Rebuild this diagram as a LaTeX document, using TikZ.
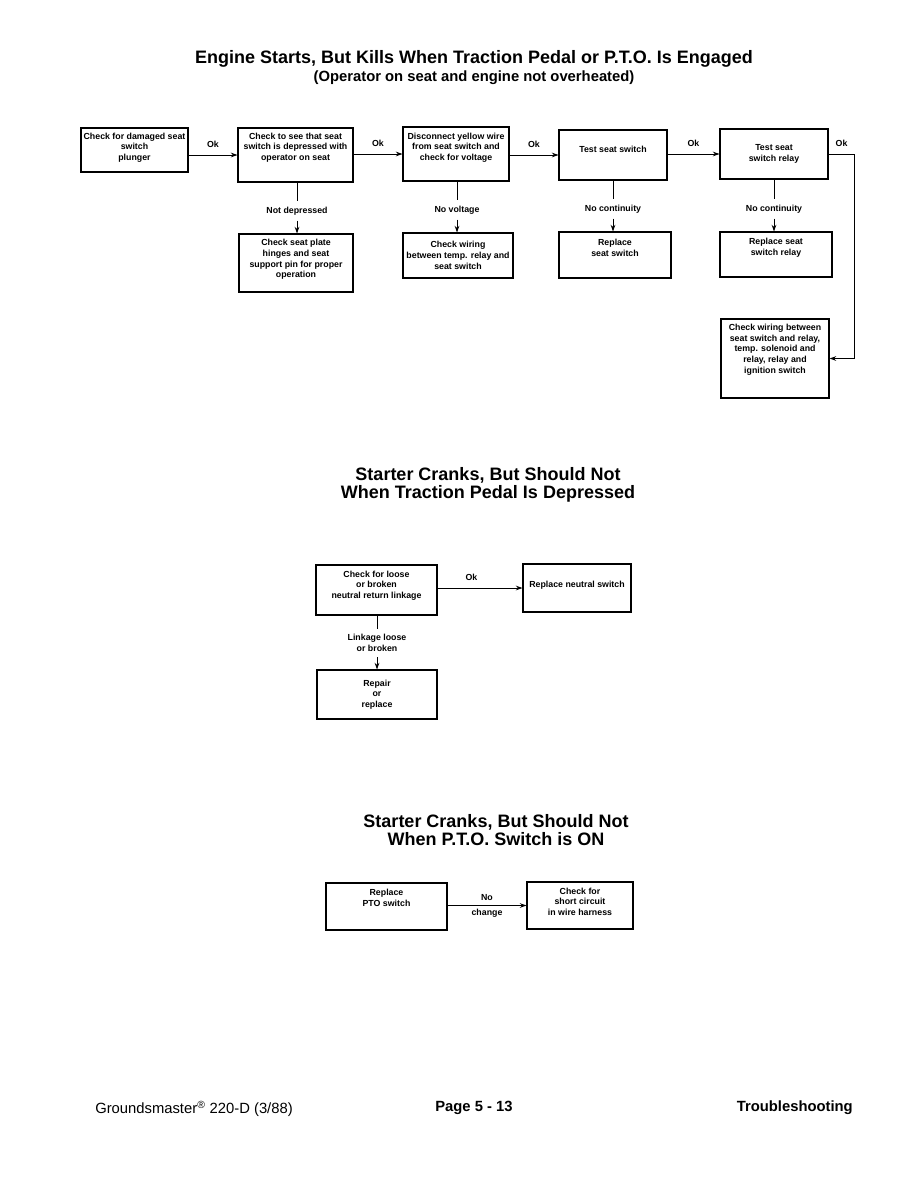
\documentclass[tikz,border=0pt]{standalone}
\usepackage{fontspec}
\setmainfont{Liberation Sans}
\usetikzlibrary{arrows.meta,positioning}

\begin{document}
\begin{tikzpicture}[x=0.75pt,y=-0.75pt,
    every node/.style={font=\fontsize{6.6}{8}\selectfont\bfseries},
    box/.style 2 args={draw,line width=0.8pt,align=center,inner sep=1pt,
        minimum width=#1*0.75pt,minimum height=#2*0.75pt},
    lift/.style={text depth=#1},
    arr/.style={-{Stealth[length=5pt,width=3.5pt]},line width=0.7pt},
    lnk/.style={line width=0.7pt},
    note/.style={align=center,inner xsep=1pt,inner ysep=4pt},
    oklbl/.style={above=5pt,inner sep=0pt},
    title/.style={font=\fontsize{13.5}{13.5}\selectfont\bfseries,align=center},
    subt/.style={font=\fontsize{11.1}{12}\selectfont\bfseries},
    foot/.style={font=\fontsize{11.1}{12}\selectfont,inner sep=0pt}]
  \path[use as bounding box,fill=white] (0,0) rectangle (921,1188);

  %% Engine starts, but kills
  \node[title] (t1) at (474,59)
        {Engine Starts, But Kills When Traction Pedal or P.T.O. Is Engaged};
  \node[subt] (t1s) at (474,78) {(Operator on seat and engine not overheated)};

  %% Top row
  \node[box={107}{44},lift=5pt] (b1) at (134.5,150)
        {Check for damaged seat\\switch\\plunger};
  \node[box={115}{54},lift=12.5pt] (b2) at (295.5,155)
        {Check to see that seat\\switch is depressed with\\operator on seat};
  \node[box={106}{54},lift=11pt] (b3) at (456,154)
        {Disconnect yellow wire\\from seat switch and\\check for voltage};
  \node[box={108}{50},lift=9pt] (b4) at (613,155) {Test seat switch};
  \node[box={108}{50}] (b5) at (774,154) {Test seat\\switch relay};

  %% Second row
  \node[box={114}{58},lift=6.5pt] (b2b) at (296,263)
        {Check seat plate\\hinges and seat\\support pin for proper\\operation};
  \node[box={110}{45}] (b3b) at (458,255.5)
        {Check wiring\\between temp. relay and\\seat switch};
  \node[box={112}{46},lift=10.5pt] (b4b) at (615,255) {Replace\\seat switch};
  \node[box={112}{45},lift=12pt] (b5b) at (776,254.5) {Replace seat\\switch relay};
  \node[box={108}{79},lift=15pt] (b6) at (775,358.5)
        {Check wiring between\\seat switch and relay,\\temp. solenoid and\\relay, relay and\\ignition switch};

  %% Branch labels
  \node[note] (nd) at (297,211) {Not depressed};
  \node[note] (nv) at (457,210) {No voltage};
  \node[note] (nc1) at (613,209) {No continuity};
  \node[note] (nc2) at (774,209) {No continuity};

  \draw[arr] (b1.east |- b2.west) -- (b2.west) node[oklbl,midway]{Ok};
  \draw[arr] (b2.east |- b3.west) -- (b3.west) node[oklbl,midway]{Ok};
  \draw[arr] (b3.east |- b4.west) -- (b4.west) node[oklbl,midway]{Ok};
  \draw[arr] (b4.east |- b5.west) -- (b5.west) node[oklbl,midway]{Ok};
  \draw[arr] (b5.east) -- ++(26,0) node[oklbl,midway]{Ok} |- (b6.east);

  \draw[lnk] (b2.south -| nd) -- (nd);
  \draw[arr] (nd) -- (nd |- b2b.north);
  \draw[lnk] (b3.south -| nv) -- (nv);
  \draw[arr] (nv) -- (nv |- b3b.north);
  \draw[lnk] (b4.south -| nc1) -- (nc1);
  \draw[arr] (nc1) -- (nc1 |- b4b.north);
  \draw[lnk] (b5.south -| nc2) -- (nc2);
  \draw[arr] (nc2) -- (nc2 |- b5b.north);

  %% Starter cranks, traction pedal
  \node[title] (t2) at (488,485)
        {Starter Cranks, But Should Not\\When Traction Pedal Is Depressed};
  \node[box={121}{50},lift=8pt] (m1) at (376.5,590)
        {Check for loose\\or broken\\neutral return linkage};
  \node[box={108}{48},lift=6pt] (m2) at (577,588) {Replace neutral switch};
  \node[box={120}{49}] (m3) at (377,694.5) {Repair\\or\\replace};
  \node[note] (nl) at (377,643) {Linkage loose\\or broken};

  \draw[arr] (m1.east |- m2.west) -- (m2.west) node[oklbl,pos=0.4]{Ok};
  \draw[lnk] (m1.south -| nl) -- (nl);
  \draw[arr] (nl) -- (nl |- m3.north);

  %% Starter cranks, P.T.O.
  \node[title] (t3) at (496,830)
        {Starter Cranks, But Should Not\\When P.T.O. Switch is ON};
  \node[box={121}{47},lift=13.5pt] (p1) at (386.5,906.5) {Replace\\PTO switch};
  \node[box={106}{47},lift=6pt] (p2) at (580,905.5)
        {Check for\\short circuit\\in wire harness};

  \draw[arr] (p1.east |- p2.west) -- (p2.west)
        node[midway,above=3.7pt,inner sep=0pt]{No}
        node[midway,below=2.3pt,inner sep=0pt]{change};

  %% Footer
  \node[foot,anchor=west] (gm) at (95,1109)
        {Groundsmaster\textsuperscript{\textregistered} 220-D (3/88)};
  \node[foot,font=\fontsize{11.1}{12}\selectfont\bfseries] (pg) at (474,1108) {Page 5 - 13};
  \node[foot,font=\fontsize{11.1}{12}\selectfont\bfseries,anchor=east] (ts) at (853,1108)
        {Troubleshooting};
\end{tikzpicture}
\end{document}
